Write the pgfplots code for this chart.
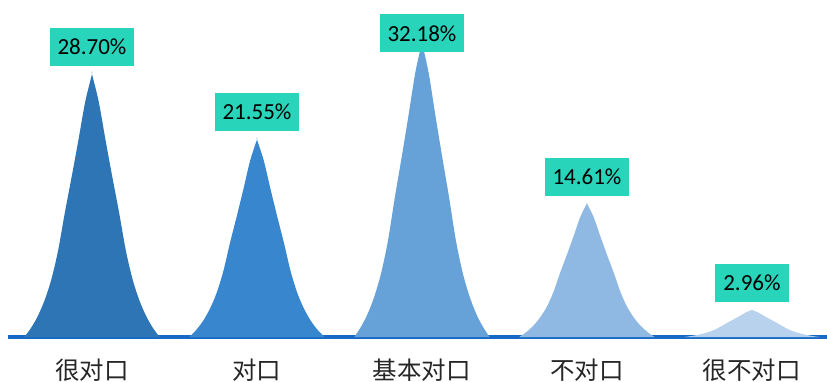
\documentclass[border=0pt]{standalone}
\usepackage{pgfplots}
\pgfplotsset{compat=1.18}
\usepackage{fontspec}
\setmainfont{Carlito}
\newfontfamily\cjk{Noto Sans CJK SC}
\definecolor{c1}{RGB}{46,117,182}
\definecolor{c2}{RGB}{56,135,206}
\definecolor{c3}{RGB}{102,161,216}
\definecolor{c4}{RGB}{143,185,226}
\definecolor{c5}{RGB}{184,210,238}
\definecolor{base}{RGB}{22,106,198}
\definecolor{lab}{RGB}{40,212,186}
\tikzset{labnode/.style={fill=lab, draw=none, minimum height=38pt, inner xsep=8pt, font=\fontsize{23}{27}\selectfont, text=black}}
\begin{document}
\begin{tikzpicture}
\useasboundingbox (0,0) rectangle (827pt,381pt);
\begin{axis}[
  at={(8pt,44pt)}, anchor=south west,
  scale only axis, width=819pt, height=337pt,
  xmin=-5.09, xmax=44.55, ymin=0, ymax=36.8,
  clip=false,
  axis y line=none,
  axis x line*=bottom,
  x axis line style={line width=3.5pt, color=base, -},
  xtick={0,10,20,30,40},
  xticklabels={很对口,对口,基本对口,不对口,很不对口},
  major tick length=0pt,
  xticklabel style={anchor=center, yshift=-33pt, font=\cjk\fontsize{24.5}{28}\selectfont, text=black!85},
  every axis plot/.append style={smooth, tension=0.5, draw=none},
]
\addplot[fill=c1] coordinates {
(-4.1,0) (-3.69,1.00) (-3.28,2.30) (-2.87,4.02) (-2.46,6.31) (-2.05,9.47) (-1.64,13.63) (-1.23,17.51) (-0.82,21.53) (-0.41,25.69)
(0,28.70) (0,28.70)
(0.41,25.69) (0.82,21.53) (1.23,17.51) (1.64,13.63) (2.05,9.47) (2.46,6.31) (2.87,4.02) (3.28,2.30) (3.69,1.00) (4.1,0)
} \closedcycle;
\addplot[fill=c2] coordinates {
(5.9,0) (6.31,0.75) (6.72,1.72) (7.13,3.02) (7.54,4.74) (7.95,7.11) (8.36,10.24) (8.77,13.15) (9.18,16.16) (9.59,19.29)
(10,21.55) (10,21.55)
(10.41,19.29) (10.82,16.16) (11.23,13.15) (11.64,10.24) (12.05,7.11) (12.46,4.74) (12.87,3.02) (13.28,1.72) (13.69,0.75) (14.1,0)
} \closedcycle;
\addplot[fill=c3] coordinates {
(15.9,0) (16.31,1.13) (16.72,2.57) (17.13,4.51) (17.54,7.08) (17.95,10.62) (18.36,15.29) (18.77,19.63) (19.18,24.14) (19.59,28.80)
(20,32.18) (20,32.18)
(20.41,28.80) (20.82,24.14) (21.23,19.63) (21.64,15.29) (22.05,10.62) (22.46,7.08) (22.87,4.51) (23.28,2.57) (23.69,1.13) (24.1,0)
} \closedcycle;
\addplot[fill=c4] coordinates {
(25.9,0) (26.31,0.51) (26.72,1.17) (27.13,2.05) (27.54,3.21) (27.95,4.82) (28.36,6.94) (28.77,8.91) (29.18,10.96) (29.59,13.08)
(30,14.61) (30,14.61)
(30.41,13.08) (30.82,10.96) (31.23,8.91) (31.64,6.94) (32.05,4.82) (32.46,3.21) (32.87,2.05) (33.28,1.17) (33.69,0.51) (34.1,0)
} \closedcycle;
\addplot[fill=c5] coordinates {
(35.9,0) (36.31,0.10) (36.72,0.24) (37.13,0.41) (37.54,0.65) (37.95,0.98) (38.36,1.41) (38.77,1.81) (39.18,2.22) (39.59,2.65)
(40,2.96) (40,2.96)
(40.41,2.65) (40.82,2.22) (41.23,1.81) (41.64,1.41) (42.05,0.98) (42.46,0.65) (42.87,0.41) (43.28,0.24) (43.69,0.10) (44.1,0)
} \closedcycle;
\node[labnode, yshift=27pt] at (axis cs:0,28.70) {28.70\%};
\node[labnode, yshift=28pt] at (axis cs:10,21.55) {21.55\%};
\node[labnode, yshift=9pt] at (axis cs:20,32.18) {32.18\%};
\node[labnode, yshift=26pt] at (axis cs:30,14.61) {14.61\%};
\node[labnode, yshift=27pt] at (axis cs:40,2.96) {2.96\%};
\end{axis}
\end{tikzpicture}
\end{document}
